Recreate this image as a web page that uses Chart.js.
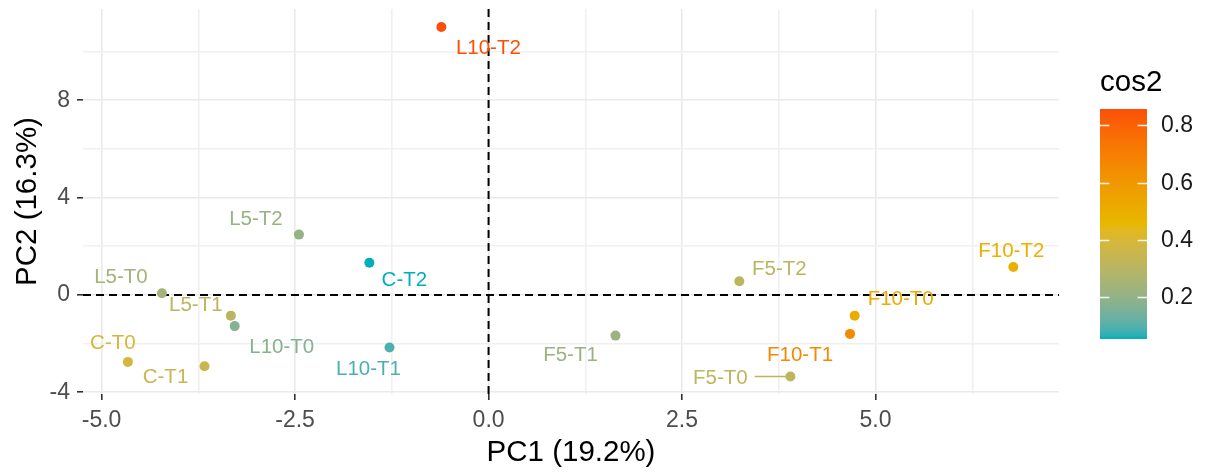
<!DOCTYPE html>
<html>
<head>
<meta charset="utf-8">
<script src="https://cdn.jsdelivr.net/npm/chart.js@4.4.0/dist/chart.umd.min.js"></script>
<style>
  html, body { margin: 0; padding: 0; background: #ffffff; }
  #wrap { width: 1211px; height: 476px; position: relative; }
</style>
</head>
<body>
<div id="wrap"><canvas id="pca" width="1211" height="476"></canvas></div>
<script>
// ---- Individuals on the first two principal components ----
const samples = ['C-T0', 'C-T1', 'C-T2', 'F10-T0', 'F10-T1', 'F10-T2', 'F5-T0', 'F5-T1',
                 'F5-T2', 'L10-T0', 'L10-T1', 'L10-T2', 'L5-T0', 'L5-T1', 'L5-T2'];
const pc1  = [-4.66, -3.67, -1.54, 4.73, 4.67, 6.78, 3.90, 1.64,
              3.24, -3.28, -1.28, -0.61, -4.22, -3.33, -2.45];
const pc2  = [-2.75, -2.93, 1.32, -0.85, -1.60, 1.15, -3.35, -1.67,
              0.56, -1.28, -2.16, 11.01, 0.07, -0.85, 2.48];
const cos2 = [0.39, 0.35, 0.053, 0.51, 0.66, 0.49, 0.32, 0.22,
              0.31, 0.17, 0.09, 0.857, 0.24, 0.31, 0.21];

// ---- Axis and legend text ----
const xTickValues = [-5, -2.5, 0, 2.5, 5];
const xTickLabels = ['-5.0', '-2.5', '0.0', '2.5', '5.0'];
const yTickValues = [-4, 0, 4, 8];
const yTickLabels = ['-4', '0', '4', '8'];
const legendTickValues = [0.2, 0.4, 0.6, 0.8];
const legendTickLabels = ['0.2', '0.4', '0.6', '0.8'];
const xTitle = 'PC1 (19.2%)';
const yTitle = 'PC2 (16.3%)';
const legendTitle = 'cos2';
const gradientColours = ['#00AFBB', '#E7B800', '#FC4E07'];

// ---- Layout and styling ----
const FONT = '"Liberation Sans", Arial, Helvetica, sans-serif';
// label placement relative to its point, in pixels [dx, dy]
const labelNudges = [[-15, -19], [-39, 11], [35, 18], [46, -16], [-50, 21], [-2, -16], [-70, 2], [-45, 20],
                     [40, -12], [47, 21], [-21, 22], [47, 21], [-41, -16], [-35, -10], [-43, -15]];
const leaderLines = ['F5-T0'];
const colourBar = { left: 1100, width: 47, top: 109, height: 230, titleX: 1100, titleY: 91, labelX: 1161 };

// ---- Colour scale (interpolated in CIE Lab, like a ggplot gradient) ----
function hexToRgb(h) {
  const n = parseInt(h.slice(1), 16);
  return [(n >> 16) & 255, (n >> 8) & 255, n & 255];
}
function toLinear(c) { c /= 255; return c <= 0.04045 ? c / 12.92 : Math.pow((c + 0.055) / 1.055, 2.4); }
function fromLinear(c) {
  const v = c <= 0.0031308 ? 12.92 * c : 1.055 * Math.pow(c, 1 / 2.4) - 0.055;
  return Math.round(Math.max(0, Math.min(1, v)) * 255);
}
const WHITE = [0.95047, 1.0, 1.08883];
function rgbToLab(rgb) {
  const [r, g, b] = rgb.map(toLinear);
  const X = 0.4124564 * r + 0.3575761 * g + 0.1804375 * b;
  const Y = 0.2126729 * r + 0.7151522 * g + 0.0721750 * b;
  const Z = 0.0193339 * r + 0.1191920 * g + 0.9503041 * b;
  const f = t => t > 216 / 24389 ? Math.cbrt(t) : (24389 / 27 * t + 16) / 116;
  const fx = f(X / WHITE[0]), fy = f(Y / WHITE[1]), fz = f(Z / WHITE[2]);
  return [116 * fy - 16, 500 * (fx - fy), 200 * (fy - fz)];
}
function labToRgb(lab) {
  const [L, a, b] = lab;
  const fy = (L + 16) / 116, fx = fy + a / 500, fz = fy - b / 200;
  const inv = t => t * t * t > 216 / 24389 ? t * t * t : (116 * t - 16) / (24389 / 27);
  const X = inv(fx) * WHITE[0], Y = inv(fy) * WHITE[1], Z = inv(fz) * WHITE[2];
  const r =  3.2404542 * X - 1.5371385 * Y - 0.4985314 * Z;
  const g = -0.9692660 * X + 1.8760108 * Y + 0.0415560 * Z;
  const bb = 0.0556434 * X - 0.2040259 * Y + 1.0572252 * Z;
  return [fromLinear(r), fromLinear(g), fromLinear(bb)];
}
const labStops = gradientColours.map(c => rgbToLab(hexToRgb(c)));
const cosMin = Math.min(...cos2);
const cosMax = Math.max(...cos2);
function colourFor(v) {
  let t = (v - cosMin) / (cosMax - cosMin);
  t = Math.max(0, Math.min(1, t));
  const seg = Math.min(labStops.length - 2, Math.floor(t * (labStops.length - 1)));
  const u = t * (labStops.length - 1) - seg;
  const a = labStops[seg], b = labStops[seg + 1];
  const rgb = labToRgb([0, 1, 2].map(k => a[k] + (b[k] - a[k]) * u));
  return 'rgb(' + rgb.join(',') + ')';
}
const pointColours = cos2.map(colourFor);

// ---- Major ticks plus minor grid positions halfway between them ----
function withMinorTicks(values, min, max) {
  const step = values[1] - values[0];
  const out = values.map(v => ({ value: v, minorTick: false }));
  [values[0] - step / 2, ...values.map(v => v + step / 2)].forEach(v => out.push({ value: v, minorTick: true }));
  return out.filter(t => t.value >= min && t.value <= max).sort((p, q) => p.value - q.value);
}
function axisStyle(values, labels, title, titlePadding) {
  return {
    type: 'linear',
    afterBuildTicks: scale => { scale.ticks = withMinorTicks(values, scale.min, scale.max); },
    ticks: {
      autoSkip: false, maxRotation: 0, minRotation: 0, padding: 7,
      color: '#4D4D4D', font: { family: FONT, size: 23 },
      callback: value => { const i = values.indexOf(value); return i >= 0 ? labels[i] : ''; }
    },
    grid: {
      color: c => (c.tick && c.tick.minorTick) ? '#F0F0F0' : '#EAEAEA',
      lineWidth: 1.6,
      drawTicks: true, tickLength: 6, tickWidth: 1.6,
      tickColor: c => (c.tick && c.tick.minorTick) ? 'rgba(0,0,0,0)' : '#333333'
    },
    border: { display: false },
    title: { display: true, text: title, color: '#000000', font: { family: FONT, size: 29.5 }, padding: titlePadding }
  };
}

// dashed reference lines through the origin
const originLines = {
  id: 'originLines',
  beforeDatasetsDraw(chart) {
    const { ctx, chartArea: a, scales: { x, y } } = chart;
    const x0 = x.getPixelForValue(0), y0 = y.getPixelForValue(0);
    ctx.save();
    ctx.strokeStyle = '#000000';
    ctx.lineWidth = 2;
    ctx.setLineDash([8, 5]);
    ctx.beginPath();
    ctx.moveTo(a.left, y0); ctx.lineTo(a.right, y0);
    ctx.moveTo(x0, a.top); ctx.lineTo(x0, a.bottom);
    ctx.stroke();
    ctx.restore();
  }
};

// sample names beside their points
const sampleLabels = {
  id: 'sampleLabels',
  afterDatasetsDraw(chart) {
    const { ctx, scales: { x, y } } = chart;
    ctx.save();
    ctx.font = '20.5px ' + FONT;
    ctx.textAlign = 'center';
    ctx.textBaseline = 'middle';
    samples.forEach((name, i) => {
      const px = x.getPixelForValue(pc1[i]), py = y.getPixelForValue(pc2[i]);
      const tx = px + labelNudges[i][0], ty = py + labelNudges[i][1];
      ctx.fillStyle = pointColours[i];
      ctx.fillText(name, tx, ty);
      if (leaderLines.includes(name)) {
        const half = ctx.measureText(name).width / 2;
        ctx.strokeStyle = pointColours[i];
        ctx.lineWidth = 1.6;
        ctx.beginPath();
        ctx.moveTo(tx + half + 7, py);
        ctx.lineTo(px, py);
        ctx.stroke();
      }
    });
    ctx.restore();
  }
};

// continuous colour legend for cos2
const colourLegend = {
  id: 'colourLegend',
  afterDraw(chart) {
    const { ctx } = chart;
    const b = colourBar;
    const bottom = b.top + b.height;
    const yFor = v => bottom - (v - cosMin) / (cosMax - cosMin) * b.height;
    ctx.save();
    ctx.fillStyle = '#000000';
    ctx.font = '29.5px ' + FONT;
    ctx.textAlign = 'left';
    ctx.textBaseline = 'alphabetic';
    ctx.fillText(legendTitle, b.titleX, b.titleY);

    const grad = ctx.createLinearGradient(0, bottom, 0, b.top);
    const n = 60;
    for (let k = 0; k <= n; k++) grad.addColorStop(k / n, colourFor(cosMin + (cosMax - cosMin) * k / n));
    ctx.fillStyle = grad;
    ctx.fillRect(b.left, b.top, b.width, b.height);

    const tick = b.width / 5;
    ctx.strokeStyle = 'rgba(255,255,255,0.9)';
    ctx.lineWidth = 1.5;
    ctx.font = '23px ' + FONT;
    ctx.textBaseline = 'middle';
    ctx.fillStyle = '#1A1A1A';
    legendTickValues.forEach((v, i) => {
      const ty = Math.round(yFor(v)) + 0.5;
      ctx.beginPath();
      ctx.moveTo(b.left, ty); ctx.lineTo(b.left + tick, ty);
      ctx.moveTo(b.left + b.width - tick, ty); ctx.lineTo(b.left + b.width, ty);
      ctx.stroke();
      ctx.fillText(legendTickLabels[i], b.labelX, ty);
    });
    ctx.restore();
  }
};

const xScale = axisStyle(xTickValues, xTickLabels, xTitle, { top: 0, bottom: 5 });
xScale.min = -5.24; xScale.max = 7.37;
xScale.afterFit = s => { s.height = 82; s.paddingLeft = 0; s.paddingRight = 0; };
const yScale = axisStyle(yTickValues, yTickLabels, yTitle, { top: 10, bottom: 0 });
yScale.min = -4.07; yScale.max = 11.75;
yScale.afterFit = s => { s.width = 83; s.paddingTop = 0; s.paddingBottom = 0; };

new Chart(document.getElementById('pca'), {
  type: 'scatter',
  data: {
    datasets: [{
      label: 'individuals',
      data: pc1.map((v, i) => ({ x: v, y: pc2[i] })),
      backgroundColor: pointColours,
      borderWidth: 0,
      pointRadius: 5,
      pointHoverRadius: 5
    }]
  },
  options: {
    responsive: false,
    animation: false,
    devicePixelRatio: 1,
    layout: { padding: { left: 0, right: 152, top: 9, bottom: 0 } },
    plugins: { legend: { display: false }, tooltip: { enabled: false } },
    scales: { x: xScale, y: yScale }
  },
  plugins: [originLines, sampleLabels, colourLegend]
});
</script>
</body>
</html>
